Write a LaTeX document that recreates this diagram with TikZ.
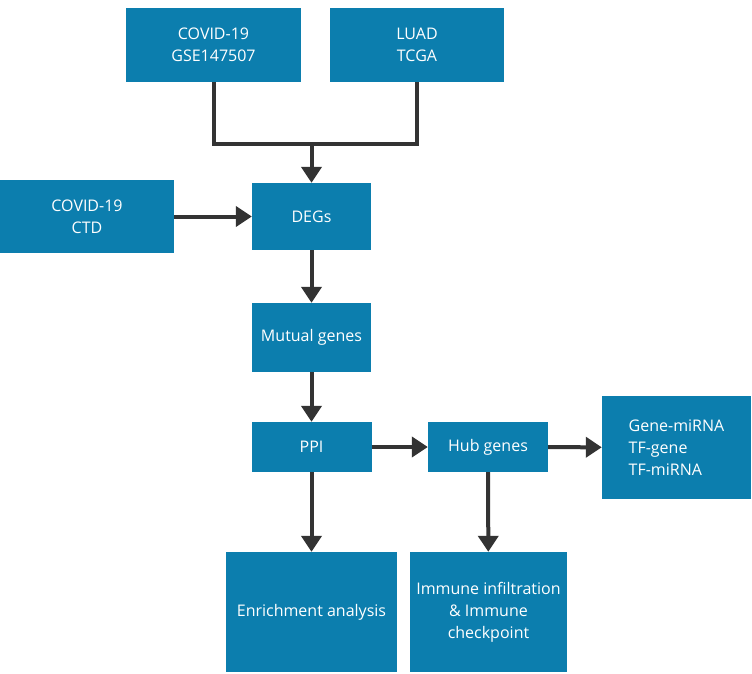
\documentclass[tikz,border=0pt]{standalone}
\usepackage{fontspec}
\setmainfont{Open Sans}
\usetikzlibrary{arrows.meta}
\definecolor{boxblue}{HTML}{0C7EAE}
\definecolor{arrgray}{HTML}{333333}
\tikzset{
  box/.style={fill=boxblue,text=white,inner sep=2pt,align=center,
    font=\fontsize{16}{22}\selectfont},
  line/.style={draw=arrgray,line width=4pt},
  arr/.style={line,-{Triangle[length=16pt,width=20pt]}}
}
\begin{document}
\begin{tikzpicture}[x=1pt,y=-1pt]
     \useasboundingbox (0,0) rectangle (752,674);
     % inputs
     \node[box,minimum width=175pt,minimum height=74pt] (gse)  at (213.5,45)  {COVID-19\\GSE147507};
     \node[box,minimum width=174pt,minimum height=74pt] (luad) at (417,45)    {LUAD\\TCGA};
     \node[box,minimum width=174pt,minimum height=73pt] (ctd)  at (87,216.5)  {COVID-19\\CTD};
     % main column
     \node[box,minimum width=119pt,minimum height=67pt] (degs)   at (311.5,216.5) {DEGs};
     \node[box,minimum width=119pt,minimum height=69pt] (mutual) at (311.5,337.5) {Mutual genes};
     \node[box,minimum width=120pt,minimum height=50pt] (ppi)    at (311.5,447)   {PPI};
     \node[box,minimum width=120pt,minimum height=50pt] (hub)    at (488,447)     {Hub genes};
     \node[box,minimum width=149pt,minimum height=103pt,align=left] (net) at (676.5,447.5) {Gene-miRNA\\TF-gene\\TF-miRNA};
     % results
     \node[box,minimum width=171pt,minimum height=120pt] (enrich) at (311.5,612) {Enrichment analysis};
     \node[box,minimum width=157pt,minimum height=120pt] (immune) at (488.5,612) {Immune infiltration\\\& Immune\\checkpoint};
     % connectors
     \coordinate (join) at (311.5,144);
     \draw[line] (gse.south) |- (join) -| (luad.south);
     \draw[arr] (join) -- (degs.north);
     \draw[arr] (ctd) -- (degs);
     \draw[arr] (degs) -- (mutual);
     \draw[arr] (mutual) -- (ppi);
     \draw[arr] (ppi) -- (hub);
     \draw[arr] (hub) -- (net);
     \draw[arr] (ppi) -- (enrich);
     \draw[arr] (hub) -- (immune);
\end{tikzpicture}
\end{document}
